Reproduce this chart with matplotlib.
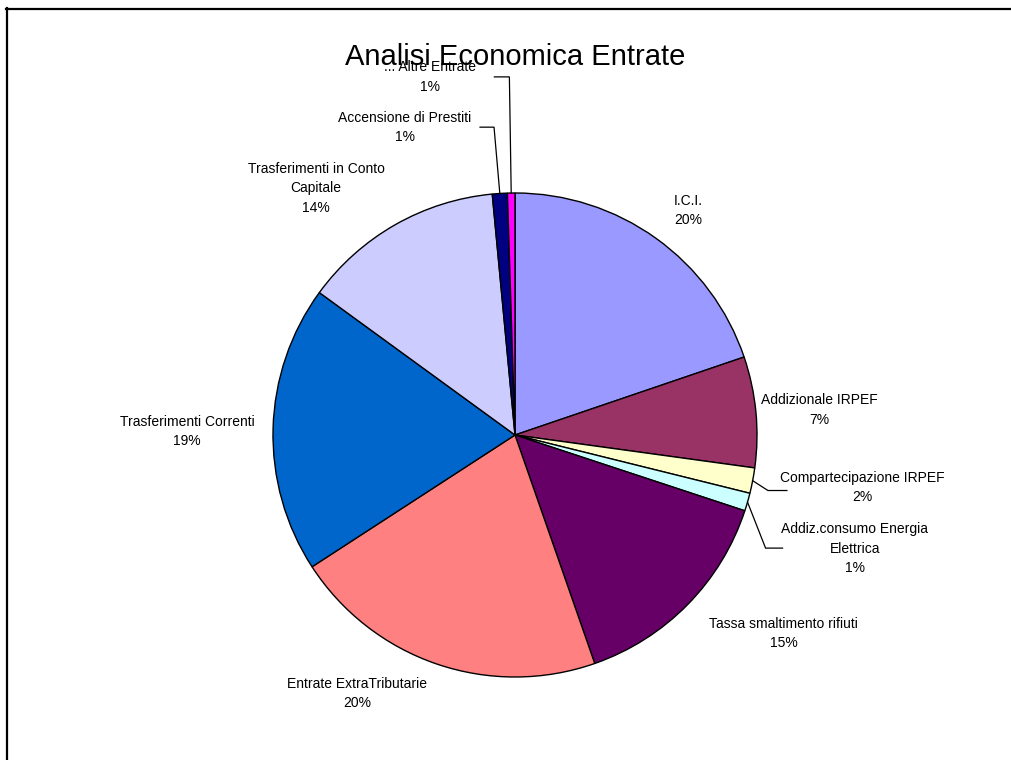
import numpy as np
import matplotlib
matplotlib.use("Agg")
import matplotlib.pyplot as plt

# ── Data ─────────────────────────────────────────────────────────────────────
labels = ["I.C.I.", "Addizionale IRPEF", "Compartecipazione IRPEF",
          "Addiz.consumo Energia\nElettrica", "Tassa smaltimento rifiuti",
          "Entrate ExtraTributarie", "Trasferimenti Correnti",
          "Trasferimenti in Conto\nCapitale", "Accensione di Prestiti",
          "... Altre Entrate"]
values = [19.8, 7.4, 1.7, 1.2, 14.6, 21.2, 19.2, 13.5, 1.0, 0.5]
pct_text = ["20%", "7%", "2%", "1%", "15%", "20%", "19%", "14%", "1%", "1%"]
colors = ["#9999FF", "#993366", "#FFFFCC", "#CCFFFF", "#660066",
          "#FF8080", "#0066CC", "#CCCCFF", "#000080", "#FF00FF"]

# ── Layout (pixel units, y up) ───────────────────────────────────────────────
W, H = 1011, 760
CX, CY, R = 515, 325, 242
# label placement: radius factor and angle shift (deg, clockwise from mid)
LAB_R  = [1.17, 1.26, 1.45, 1.48, 1.38, 1.25, 1.355, 1.31, 1.35, 1.52]
LAB_DA = [2.0, 0.8, -2.3, 2.4, -8.0, 12.5, -0.9, -9.2, -16.1, -12.5]
# leader lines: index -> (elbow radius factor, elbow angle shift, horiz length)
LEADERS = {2: (1.07, 1.5, 19), 3: (1.136, 8.2, 17),
           8: (1.275, -0.3, -14), 9: (1.48, 0.0, -15)}

fig = plt.figure(figsize=(W / 100, H / 100), dpi=100)
ax = fig.add_axes([0, 0, 1, 1])

wedges, _ = ax.pie(values, colors=colors, startangle=90, counterclock=False,
                   center=(CX, CY), radius=R, frame=True,
                   wedgeprops=dict(edgecolor="black", linewidth=1.0))
ax.set_xlim(0, W)
ax.set_ylim(0, H)
ax.set_aspect("equal")
ax.axis("off")

font = "Liberation Sans"


def pt(theta_cw, r):
    # theta measured clockwise from 12 o'clock
    t = np.deg2rad(theta_cw)
    return CX + r * np.sin(t), CY + r * np.cos(t)


for i, w in enumerate(wedges):
    mid = (90 - (w.theta1 + w.theta2) / 2.0) % 360
    x, y = pt(mid + LAB_DA[i], LAB_R[i] * R)
    ax.text(x, y, labels[i] + "\n" + pct_text[i], ha="center", va="center",
            fontsize=10, family=font, linespacing=1.5, color="black")
    if i in LEADERS:
        er, eda, hl = LEADERS[i]
        x0, y0 = pt(mid, R)
        x1, y1 = pt(mid + eda, er * R)
        ax.plot([x0, x1, x1 + hl], [y0, y1, y1], color="black", lw=0.9,
                solid_joinstyle="miter")

ax.text(CX, 703, "Analisi Economica Entrate", ha="center", va="center",
        fontsize=21, family=font, color="black", zorder=5)

# chart frame (only left and top edges visible)
fig.add_artist(plt.Line2D([6.5 / W, 6.5 / W], [0, 1 - 8 / H], color="black",
                          lw=1.6, transform=fig.transFigure))
fig.add_artist(plt.Line2D([6 / W, 1], [1 - 8.5 / H, 1 - 8.5 / H], color="black",
                          lw=1.6, transform=fig.transFigure))

fig.savefig("out.png", dpi=100, facecolor="white")
